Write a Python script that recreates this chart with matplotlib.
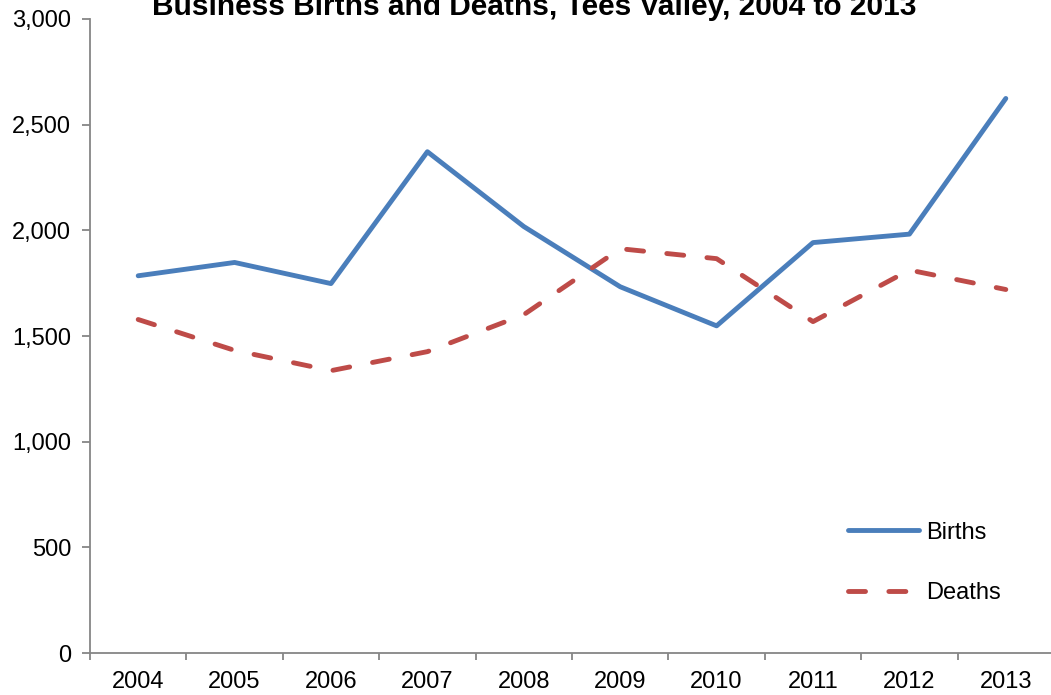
import matplotlib
matplotlib.use("Agg")
import matplotlib.pyplot as plt
from matplotlib.ticker import FuncFormatter, FixedLocator

plt.rcParams['font.family'] = ['Liberation Sans', 'DejaVu Sans']

years = ['2004', '2005', '2006', '2007', '2008', '2009', '2010', '2011', '2012', '2013']
births = [1785, 1848, 1748, 2372, 2018, 1733, 1548, 1942, 1982, 2624]
deaths = [1578, 1432, 1336, 1426, 1601, 1913, 1866, 1568, 1812, 1720]

fig = plt.figure(figsize=(10.51, 6.95), dpi=100)
W, H = 1051, 695
ax = fig.add_axes([90 / W, 42 / H, (1054 - 90) / W, (653 - 19) / H])

x = list(range(len(years)))
ax.plot(x, births, color='#4A7EBB', lw=3.5, solid_capstyle='round', solid_joinstyle='round', label='Births')
ax.plot(x, deaths, color='#BE4B48', lw=3.5, dashes=(3.5, 4.8), dash_capstyle='round', dash_joinstyle='round', label='Deaths')

ax.set_xlim(-0.5, len(years) - 0.5)
ax.set_ylim(0, 3000)
ax.set_yticks(range(0, 3001, 500))
ax.yaxis.set_major_formatter(FuncFormatter(lambda v, p: f'{int(v):,}'))

# category boundaries carry tick marks, labels sit centred between them
ax.xaxis.set_major_locator(FixedLocator([i - 0.5 for i in range(len(years) + 1)]))
ax.xaxis.set_minor_locator(FixedLocator(x))
ax.set_xticklabels([''] * (len(years) + 1))
ax.set_xticklabels(years, minor=True)
ax.tick_params(axis='x', which='minor', length=0, labelsize=17, pad=13)
ax.tick_params(axis='x', which='major', length=5, width=1.3, color='#868686', direction='out')
ax.tick_params(axis='y', length=5.5, width=1.3, color='#868686', direction='out', labelsize=17, pad=8)

for s in ['top', 'right']:
    ax.spines[s].set_visible(False)
for s in ['left', 'bottom']:
    ax.spines[s].set_color('#868686')
    ax.spines[s].set_linewidth(1.3)

fig.legend(*ax.get_legend_handles_labels(), loc='center left', bbox_to_anchor=(848 / W, 1 - 563 / H),
           frameon=False, fontsize=17, handlelength=3.0, labelspacing=1.65, handletextpad=0.3,
           borderpad=0, borderaxespad=0)

fig.text(534 / W, 1 - 15 / H, 'Business Births and Deaths, Tees Valley, 2004 to 2013',
         ha='center', va='baseline', fontsize=21.5, fontweight='bold')

fig.savefig('out.png', dpi=100)
